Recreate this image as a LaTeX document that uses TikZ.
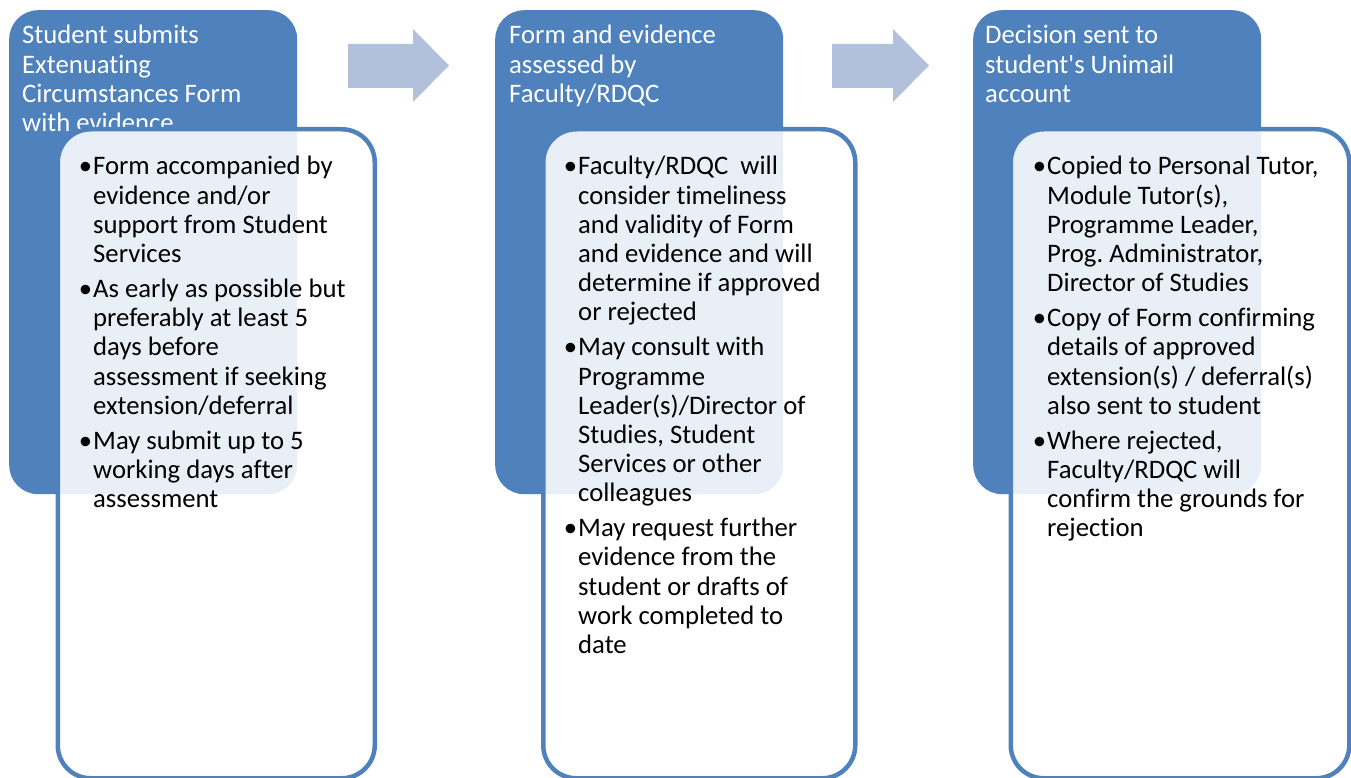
\documentclass[tikz,border=0pt]{standalone}
\usepackage{fontspec}
\newfontfamily\calib{Carlito}[Ligatures={NoCommon,NoRare,NoContextual}]
\definecolor{boxblue}{RGB}{79,129,189}
\definecolor{arrowblue}{RGB}{178,193,219}
\newcommand\Ln[1]{\hbox{#1}}
\newcommand\Bt[1]{\hbox{\llap{•\kern1pt}#1}}
\newcommand\Gap{\vskip5.7pt}
\newcommand\Lines[1]{\vtop{\frenchspacing\baselineskip=29.2pt\lineskiplimit=-100pt\lineskip=0pt #1}}
\tikzset{
  titlebox/.style={fill=boxblue, draw=none, rounded corners=29pt, inner sep=0pt, anchor=north west},
  bodybox/.style={draw=boxblue, line width=4.5pt, fill=white, fill opacity=0.875, draw opacity=1, rounded corners=33pt, inner sep=0pt, anchor=north west},
  flowarrow/.style={fill=arrowblue, draw=none},
  titletext/.style={anchor=base west, inner sep=0pt, text=white, font=\calib\fontsize{26.7}{29.2}\selectfont},
  bodytext/.style={anchor=base west, inner sep=0pt, text=black, font=\calib\fontsize{26.7}{29.2}\selectfont},
}
\begin{document}
\begin{tikzpicture}[x=1pt,y=-1pt]
\useasboundingbox (0,0) rectangle (1351,778);
% ---- step 1
\node[titlebox, minimum width=288pt, minimum height=484pt] (t1) at (9,10) {};
\node[titletext] (h1) at (22,44) {\Lines{\Ln{Student submits}\Ln{Extenuating}\Ln{Circumstances Form}\Ln{with evidence}}};
\node[bodybox, minimum width=317pt, minimum height=649pt] (w1) at (55.5,127) {};
\node[bodytext] (b1) at (93,175) {\Lines{%
\Bt{Form accompanied by}\Ln{evidence and/or}\Ln{support from Student}\Ln{Services}\Gap
\Bt{As early as possible but}\Ln{preferably at least 5}\Ln{days before}\Ln{assessment if seeking}\Ln{extension/deferral}\Gap
\Bt{May submit up to 5}\Ln{working days after}\Ln{assessment}}};
% ---- arrow 1
\fill[flowarrow] (348,44) -- (413,44) -- (413,29) -- (449,65.5) -- (413,102) -- (413,88) -- (348,88) -- cycle;
% ---- step 2
\node[titlebox, minimum width=288pt, minimum height=484pt] (t2) at (495,10) {};
\node[titletext] (h2) at (509,44) {\Lines{\Ln{Form and evidence}\Ln{assessed by}\Ln{Faculty/RDQC}}};
\node[bodybox, minimum width=312pt, minimum height=649pt] (w2) at (541,127) {};
\node[bodytext] (b2) at (578,175) {\Lines{%
\Bt{Faculty/RDQC\ \ will}\Ln{consider timeliness}\Ln{and validity of Form}\Ln{and evidence and will}\Ln{determine if approved}\Ln{or rejected}\Gap
\Bt{May consult with}\Ln{Programme}\Ln{Leader(s)/Director of}\Ln{Studies, Student}\Ln{Services or other}\Ln{colleagues}\Gap
\Bt{May request further}\Ln{evidence from the}\Ln{student or drafts of}\Ln{work completed to}\Ln{date}}};
% ---- arrow 2
\fill[flowarrow] (832,44) -- (893,44) -- (893,29) -- (929,65.5) -- (893,102) -- (893,88) -- (832,88) -- cycle;
% ---- step 3
\node[titlebox, minimum width=288pt, minimum height=484pt] (t3) at (973,10) {};
\node[titletext] (h3) at (985,44) {\Lines{\Ln{Decision sent to}\Ln{student's Unimail}\Ln{account}}};
\node[bodybox, minimum width=338.5pt, minimum height=649pt] (w3) at (1008.5,127) {};
\node[bodytext] (b3) at (1047,175) {\Lines{%
\Bt{Copied to Personal Tutor,}\Ln{Module Tutor(s),}\Ln{Programme Leader,}\Ln{Prog. Administrator,}\Ln{Director of Studies}\Gap
\Bt{Copy of Form confirming}\Ln{details of approved}\Ln{extension(s) / deferral(s)}\Ln{also sent to student}\Gap
\Bt{Where rejected,}\Ln{Faculty/RDQC will}\Ln{confirm the grounds for}\Ln{rejection}}};
\end{tikzpicture}
\end{document}
